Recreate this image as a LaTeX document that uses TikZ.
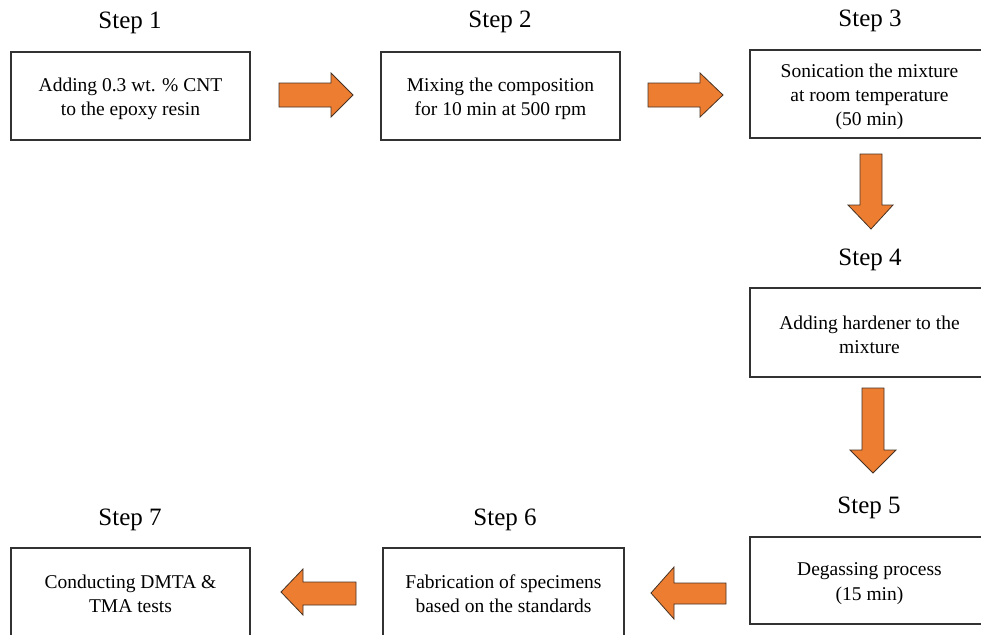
\documentclass[tikz,border=0pt]{standalone}
\usepackage{fontspec}
\setmainfont{Liberation Serif}
\definecolor{arrfill}{RGB}{237,125,49}
\definecolor{arrline}{RGB}{70,50,35}
\definecolor{boxline}{RGB}{50,50,50}
\begin{document}
\begin{tikzpicture}[x=1pt,y=-1pt,
  stepbox/.style={draw=boxline,line width=1.1pt,inner sep=0pt,minimum width=239pt,
    minimum height=88pt},
  steptext/.style={inner sep=0pt,align=center,font=\fontsize{19.5}{24.3}\selectfont},
  steptitle/.style={anchor=base,inner sep=0pt,font=\fontsize{25}{28}\selectfont},
  blockarrow/.style={fill=arrfill,draw=arrline,line width=0.8pt,line join=miter}]
\path[use as bounding box,fill=white] (0,0) rectangle (981,634);

% titles
\node[steptitle] (t1) at (130,29) {Step 1};
\node[steptitle] (t2) at (500,28) {Step 2};
\node[steptitle] (t3) at (870,27) {Step 3};
\node[steptitle] (t4) at (870,265) {Step 4};
\node[steptitle] (t5) at (869,513) {Step 5};
\node[steptitle] (t6) at (505,525) {Step 6};
\node[steptitle] (t7) at (130,525) {Step 7};

% boxes
\node[stepbox] (s1) at (130.5,96) {};
\node[stepbox] (s2) at (500.5,96) {};
\node[stepbox] (s3) at (869.5,94) {};
\node[stepbox,minimum height=89pt] (s4) at (869.5,332.5) {};
\node[stepbox,minimum height=87pt] (s5) at (869.5,580.5) {};
\node[stepbox,minimum width=241pt,minimum height=90pt] (s6) at (503.5,593) {};
\node[stepbox,minimum height=90pt] (s7) at (130.5,593) {};

% box texts
\node[steptext] (x1) at ([yshift=-3pt]s1.center) {Adding 0.3 wt. \% CNT\\to the epoxy resin};
\node[steptext] (x2) at ([yshift=-3pt]s2.center) {Mixing the composition\\for 10 min at 500 rpm};
\node[steptext] (x3) at ([yshift=-3pt]s3.center) {Sonication the mixture\\at room temperature\\(50 min)};
\node[steptext] (x4) at ([yshift=-2pt]s4.center) {Adding hardener to the\\mixture};
\node[steptext] (x5) at ([yshift=-3pt]s5.center) {Degassing process\\(15 min)};
\node[steptext] (x6) at ([yshift=-1pt]s6.center) {Fabrication of specimens\\based on the standards};
\node[steptext] (x7) at ([yshift=-1pt]s7.center) {Conducting DMTA \&\\TMA tests};

% block arrows
% s1 -> s2
\draw[blockarrow] (279,83) -- (331,83) -- (331,73) -- (353,95) -- (331,117) -- (331,107) -- (279,107) -- cycle;
% s2 -> s3
\draw[blockarrow] (648,83) -- (700,83) -- (700,73) -- (723,95) -- (700,117) -- (700,107) -- (648,107) -- cycle;
% s3 -> s4
\draw[blockarrow] (860,154) -- (882,154) -- (882,205) -- (893,205) -- (871,229) -- (848,205) -- (860,205) -- cycle;
% s4 -> s5
\draw[blockarrow] (862,388) -- (884,388) -- (884,450) -- (896,450) -- (873,473) -- (850,450) -- (862,450) -- cycle;
% s5 -> s6
\draw[blockarrow] (726,583) -- (674,583) -- (674,567) -- (651,593) -- (674,619) -- (674,604) -- (726,604) -- cycle;
% s6 -> s7
\draw[blockarrow] (356,582) -- (303,582) -- (303,569) -- (281,592) -- (303,615) -- (303,605) -- (356,605) -- cycle;
\end{tikzpicture}
\end{document}
